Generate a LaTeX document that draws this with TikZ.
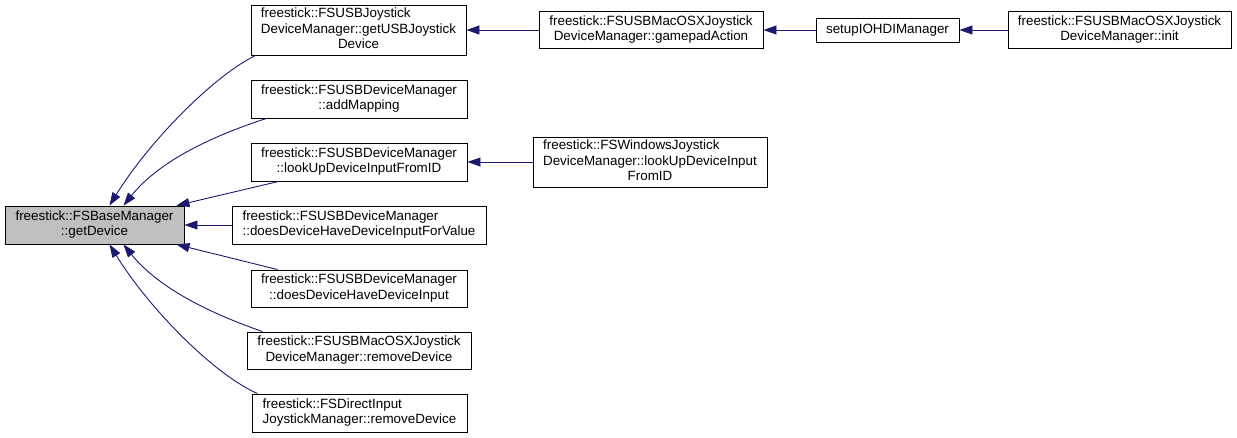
\documentclass[tikz,border=0pt]{standalone}
\usepackage{fontspec}
\setmainfont{Liberation Sans}
\usetikzlibrary{arrows.meta}
\definecolor{edgeblue}{HTML}{191970}
\definecolor{basegray}{HTML}{BFBFBF}
\newcommand\lastline[1]{\multicolumn{1}{@{}c@{}}{#1}}
\newcommand\lbl[1]{\begin{tabular}{@{}l@{}}#1\end{tabular}}
\begin{document}
\begin{tikzpicture}[x=1pt,y=-1pt,
  box/.style={draw=black, line width=0.9pt, fill=white, inner sep=0pt,
    font=\fontsize{13.4}{15.5}\selectfont},
  edge/.style={draw=edgeblue, line width=0.9pt,
    -{Triangle[length=13pt,width=9pt,fill=edgeblue]}}]
\useasboundingbox (0,0) rectangle (1237,437);
% column 1
\node[box, fill=basegray, minimum width=179pt, minimum height=38pt] (base) at (94.5,225)
  {\lbl{freestick::FSBaseManager\\\lastline{::getDevice}}};
% column 2
\node[box, minimum width=215pt, minimum height=50pt] (getusb) at (358.5,30)
  {\lbl{freestick::FSUSBJoystick\\DeviceManager::getUSBJoystick\\\lastline{Device}}};
\node[box, minimum width=216pt, minimum height=38pt] (addmap) at (359,99)
  {\lbl{freestick::FSUSBDeviceManager\\\lastline{::addMapping}}};
\node[box, minimum width=216pt, minimum height=38pt] (lookup) at (359,162)
  {\lbl{freestick::FSUSBDeviceManager\\\lastline{::lookUpDeviceInputFromID}}};
\node[box, minimum width=254pt, minimum height=38pt] (dfv) at (359,225)
  {\lbl{freestick::FSUSBDeviceManager\\\lastline{::doesDeviceHaveDeviceInputForValue}}};
\node[box, minimum width=216pt, minimum height=37pt] (dinp) at (359,288.5)
  {\lbl{freestick::FSUSBDeviceManager\\\lastline{::doesDeviceHaveDeviceInput}}};
\node[box, minimum width=224pt, minimum height=37pt] (remdev) at (359,350.5)
  {\lbl{freestick::FSUSBMacOSXJoystick\\\lastline{DeviceManager::removeDevice}}};
\node[box, minimum width=215pt, minimum height=38pt] (direct) at (359.5,413)
  {\lbl{freestick::FSDirectInput\\\lastline{JoystickManager::removeDevice}}};
% column 3
\node[box, minimum width=224pt, minimum height=37pt] (gamepad) at (651,30)
  {\lbl{freestick::FSUSBMacOSXJoystick\\\lastline{DeviceManager::gamepadAction}}};
\node[box, minimum width=234pt, minimum height=50pt] (windows) at (650,162)
  {\lbl{freestick::FSWindowsJoystick\\DeviceManager::lookUpDeviceInput\\\lastline{FromID}}};
% column 4
\node[box, minimum width=143pt, minimum height=24pt] (setup) at (887.5,30)
  {setupIOHDIManager};
% column 5
\node[box, minimum width=223pt, minimum height=37pt] (init) at (1119.5,30)
  {\lbl{freestick::FSUSBMacOSXJoystick\\\lastline{DeviceManager::init}}};
% edges
\draw[edge] (init) -- (setup);
\draw[edge] (setup) -- (gamepad);
\draw[edge] (gamepad) -- (getusb);
\draw[edge] (windows) -- (lookup);
\draw[edge] ([xshift=5pt]getusb.south west) .. controls (215,75) and (150,140) .. ([xshift=15pt]base.north);
\draw[edge] ([xshift=16pt]addmap.south west) .. controls (215,135) and (160,160) .. ([xshift=29pt]base.north);
\draw[edge] ([xshift=28pt]lookup.south west) -- ([xshift=-8pt]base.north east);
\draw[edge] (dfv) -- (base);
\draw[edge] ([xshift=27pt]dinp.north west) -- ([xshift=-8pt]base.south east);
\draw[edge] ([xshift=16pt]remdev.north west) .. controls (215,315) and (160,290) .. ([xshift=29pt]base.south);
\draw[edge] ([xshift=6pt]direct.north west) .. controls (215,375) and (150,310) .. ([xshift=15pt]base.south);
\end{tikzpicture}
\end{document}
